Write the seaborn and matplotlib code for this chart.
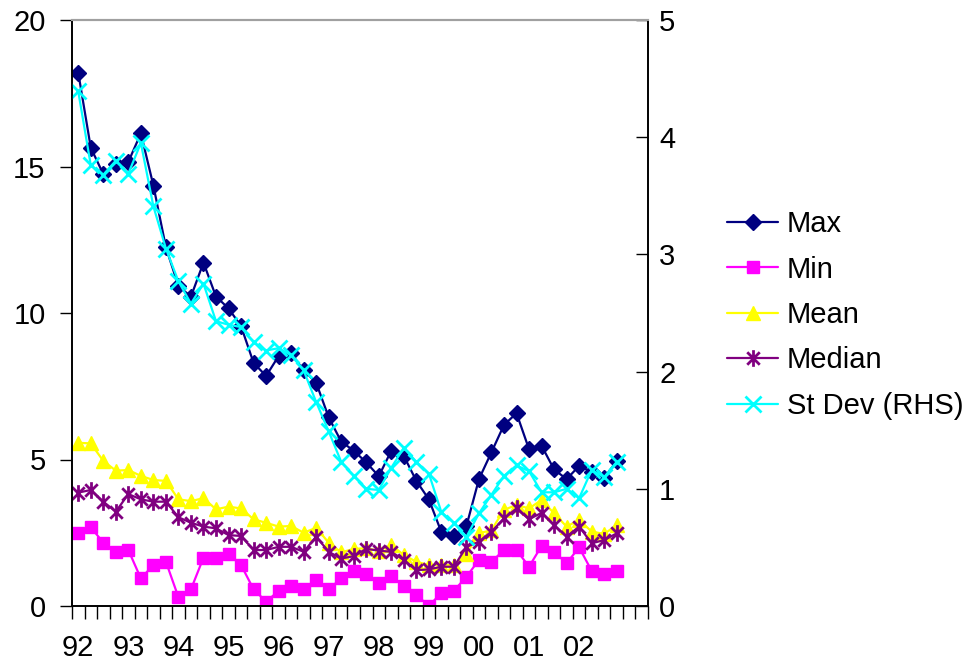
import numpy as np
import pandas as pd
import matplotlib
matplotlib.use("Agg")
import matplotlib.pyplot as plt
import seaborn as sns
from matplotlib.path import Path

# Quarterly data, 1992 Q1 to 2002 Q4
year_labels = ['92', '93', '94', '95', '96', '97', '98', '99', '00', '01', '02']

max_vals = [18.2, 15.64, 14.74, 15.08, 15.16, 16.13, 14.35, 12.24, 10.92, 10.56,
            11.72, 10.56, 10.16, 9.55, 8.30, 7.85, 8.53, 8.62, 8.05, 7.62,
            6.44, 5.61, 5.30, 4.90, 4.43, 5.30, 5.12, 4.27, 3.64, 2.52,
            2.40, 2.73, 4.33, 5.25, 6.18, 6.58, 5.35, 5.47, 4.66, 4.33,
            4.78, 4.58, 4.36, 4.95]

min_vals = [2.48, 2.69, 2.16, 1.85, 1.91, 0.94, 1.40, 1.51, 0.30, 0.57,
            1.65, 1.65, 1.77, 1.40, 0.57, 0.15, 0.51, 0.69, 0.57, 0.89,
            0.57, 0.94, 1.20, 1.09, 0.77, 1.02, 0.69, 0.38, 0.0, 0.45,
            0.52, 1.0, 1.57, 1.51, 1.91, 1.91, 1.34, 2.05, 1.85, 1.46,
            2.0, 1.20, 1.09, 1.20]

mean_vals = [5.57, 5.55, 4.95, 4.62, 4.64, 4.44, 4.30, 4.27, 3.64, 3.58,
             3.68, 3.30, 3.39, 3.33, 2.96, 2.84, 2.71, 2.73, 2.50, 2.67,
             2.16, 1.83, 1.95, 1.97, 1.89, 2.08, 1.74, 1.51, 1.40, 1.40,
             1.40, 1.77, 2.48, 2.59, 3.28, 3.45, 3.33, 3.62, 3.16, 2.71,
             2.94, 2.54, 2.46, 2.76]

median_vals = [3.87, 3.96, 3.56, 3.22, 3.82, 3.64, 3.56, 3.56, 3.03, 2.84,
               2.71, 2.65, 2.42, 2.39, 1.91, 1.91, 2.02, 2.02, 1.85, 2.37,
               1.85, 1.62, 1.70, 1.95, 1.89, 1.85, 1.57, 1.22, 1.25, 1.34,
               1.34, 2.02, 2.19, 2.54, 2.99, 3.33, 2.96, 3.18, 2.76, 2.37,
               2.71, 2.14, 2.25, 2.48]

stdev_vals = [4.39, 3.76, 3.68, 3.80, 3.69, 3.95, 3.41, 3.05, 2.77, 2.58,
              2.75, 2.43, 2.40, 2.38, 2.25, 2.18, 2.20, 2.14, 2.01, 1.74,
              1.49, 1.23, 1.11, 1.00, 0.99, 1.18, 1.35, 1.23, 1.13, 0.80,
              0.71, 0.59, 0.79, 0.95, 1.11, 1.20, 1.15, 0.97, 0.97, 1.00,
              0.92, 1.16, 1.10, 1.23]

df = pd.DataFrame({
    'q': np.arange(len(max_vals)),
    'Max': max_vals,
    'Min': min_vals,
    'Mean': mean_vals,
    'Median': median_vals,
    'St Dev (RHS)': stdev_vals,
})

# Excel style "star" marker: vertical bar plus an X
star = Path([(0, -1), (0, 1), (-0.75, -0.75), (0.75, 0.75), (-0.75, 0.75), (0.75, -0.75)],
            [Path.MOVETO, Path.LINETO, Path.MOVETO, Path.LINETO, Path.MOVETO, Path.LINETO])

sns.set_theme(style='white')
plt.rcParams['font.family'] = ['Liberation Sans', 'DejaVu Sans']
plt.rcParams['text.color'] = 'black'

fig = plt.figure(figsize=(9.69, 6.69), dpi=100)
ax = fig.add_axes([72 / 969, 63 / 669, 576 / 969, 586 / 669])
ax2 = ax.twinx()

styles = {
    'Max': dict(color='#000080', marker='D', markersize=8.5, mew=1),
    'Min': dict(color='#FF00FF', marker='s', markersize=8.5, mew=1),
    'Mean': dict(color='#FFFF00', marker='^', markersize=10, mew=1),
    'Median': dict(color='#800080', marker=star, markersize=12, mew=2),
}
for name, st in styles.items():
    sns.lineplot(data=df, x='q', y=name, ax=ax, color=st['color'], marker=st['marker'],
                 markersize=st['markersize'], markeredgecolor=st['color'],
                 markerfacecolor=st['color'], markeredgewidth=st['mew'],
                 linewidth=1.6, label=name, legend=False)

sns.lineplot(data=df, x='q', y='St Dev (RHS)', ax=ax2, color='#00FFFF', marker='x',
             markersize=11, markeredgecolor='#00FFFF', markeredgewidth=2,
             linewidth=1.6, label='St Dev (RHS)', legend=False)

# x axis: category boundaries as ticks, labels every 4 quarters
ax.set_xlim(-0.5, 45.5)
ax.set_xticks(np.arange(-0.5, 46, 1))
ax.set_xticklabels([])
ax.set_xticks(np.arange(0, 44, 4), minor=True)
ax.set_xticklabels(year_labels, minor=True)
ax.tick_params(axis='x', which='major', direction='out', length=9, width=1, color='black',
               bottom=True)
ax.tick_params(axis='x', which='minor', length=0, pad=20.5, labelsize=21, labelcolor='black',
               bottom=True)
ax.set_xlabel('')

ax.set_ylim(0, 20)
ax.set_yticks([0, 5, 10, 15, 20])
ax.tick_params(axis='y', direction='out', length=9, width=1, color='black', pad=10,
               labelsize=21, labelcolor='black', left=True)
ax.set_ylabel('')

ax2.set_ylim(0, 5)
ax2.set_yticks([0, 1, 2, 3, 4, 5])
ax2.tick_params(axis='y', direction='in', length=9, width=1, color='black', pad=8,
                labelsize=21, labelcolor='black', right=True)
ax2.set_ylabel('')

for a in (ax, ax2):
    for side in ('left', 'right', 'bottom'):
        a.spines[side].set_color('black')
        a.spines[side].set_linewidth(1.2)
    a.spines['top'].set_color('#A0A0A0')
    a.spines['top'].set_linewidth(1.5)
    a.grid(False)

handles = ax.get_lines()[:4] + ax2.get_lines()[:1]
labels = ['Max', 'Min', 'Mean', 'Median', 'St Dev (RHS)']
fig.legend(handles, labels, loc='center left', bbox_to_anchor=(727 / 969, 1 - 315 / 669),
           frameon=False, fontsize=21, handlelength=1.75, handletextpad=0.3,
           labelspacing=0.6, borderpad=0, borderaxespad=0)

fig.savefig('out.png', dpi=100)
